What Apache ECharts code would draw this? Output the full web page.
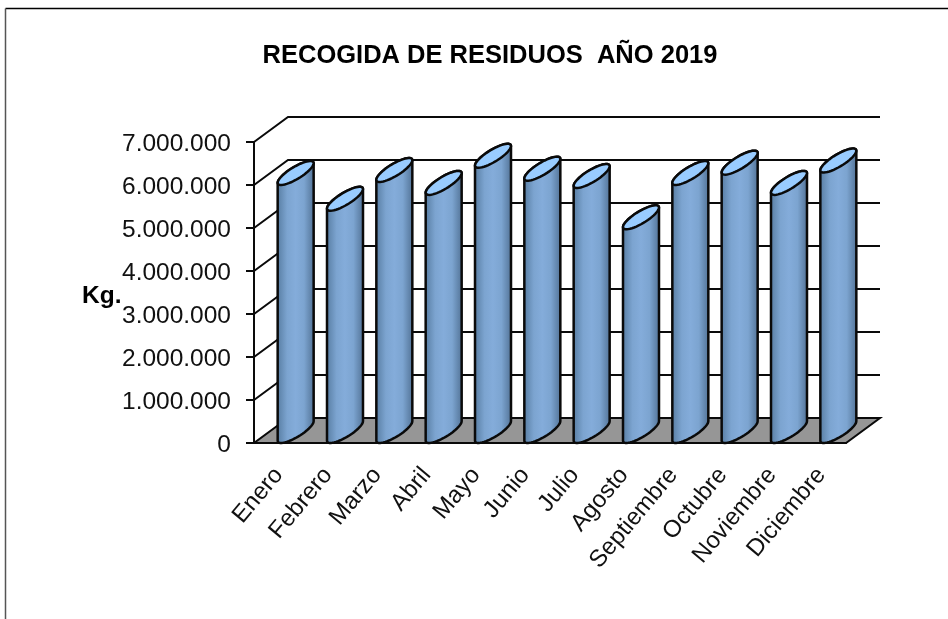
<!DOCTYPE html>
<html>
<head>
<meta charset="utf-8">
<style>html,body{margin:0;padding:0;background:#fff}#c{width:948px;height:619px}</style>
<script src="https://cdn.jsdelivr.net/npm/echarts@6/dist/echarts.min.js"></script>
</head>
<body>
<div id="c"></div>
<script>
const categories = ['Enero','Febrero','Marzo','Abril','Mayo','Junio','Julio','Agosto','Septiembre','Octubre','Noviembre','Diciembre'];
const values = [6000000,5400000,6070000,5770000,6400000,6100000,5930000,4970000,6000000,6240000,5770000,6290000];
const yTicks = [0,1000000,2000000,3000000,4000000,5000000,6000000,7000000];
const titleText = 'RECOGIDA DE RESIDUOS  AÑO 2019';
const yName = 'Kg.';

const DX = 34, DY = 25;
const RX = 18, RY = 12, PHI = 0.62;
const FONT = '"Liberation Sans", Arial, sans-serif';
const INK = '#0a0a0a';

function arc(cx, cy, from, to, n) {
  const pts = [];
  for (let i = 0; i <= n; i++) {
    const t = from + (to - from) * i / n;
    pts.push([cx + RX * Math.cos(t), cy - RY * Math.cos(t - PHI)]);
  }
  return pts;
}

function renderWall(params, api) {
  const cs = params.coordSys;
  const y = api.coord([0, api.value(1)])[1];
  const x0 = cs.x, x1 = cs.x + cs.width;
  if (api.value(1) === 0) {
    return {
      type: 'polygon',
      shape: { points: [[x0, y], [x1, y], [x1 + DX, y - DY], [x0 + DX, y - DY]] },
      style: { fill: '#969696', stroke: INK, lineWidth: 2 }
    };
  }
  return {
    type: 'polyline',
    shape: { points: [[x0, y], [x0 + DX, y - DY], [x1 + DX, y - DY]] },
    style: { fill: 'none', stroke: INK, lineWidth: 2 }
  };
}

function renderBar(params, api) {
  const top = api.coord([api.value(0), api.value(1)]);
  const base = api.coord([api.value(0), 0]);
  const off = RY;
  const cx = top[0] + RX - 1;
  const cyTop = top[1] - off;
  const cyBase = base[1] - off;
  const body = arc(cx, cyBase, Math.PI, 2 * Math.PI, 24).concat(arc(cx, cyTop, 0, Math.PI, 24));
  const lid = arc(cx, cyTop, 0, 2 * Math.PI, 48);
  return {
    type: 'group',
    children: [
      {
        type: 'polygon',
        shape: { points: body },
        style: {
          stroke: INK, lineWidth: 2.5,
          fill: new echarts.graphic.LinearGradient(0, 0, 1, 0, [
            { offset: 0, color: '#557a9f' },
            { offset: 0.28, color: '#7ca4d0' },
            { offset: 0.5, color: '#84acda' },
            { offset: 0.72, color: '#7ca4d0' },
            { offset: 1, color: '#4f6f92' }
          ])
        }
      },
      {
        type: 'polygon',
        shape: { points: lid },
        style: { fill: '#99ccff', stroke: INK, lineWidth: 2.5 }
      }
    ]
  };
}

const chart = echarts.init(document.getElementById('c'), null, { renderer: 'canvas' });
chart.setOption({
  animation: false,
  backgroundColor: '#ffffff',
  title: {
    text: titleText, left: 485, top: 38, textAlign: 'center',
    textStyle: { fontFamily: FONT, fontWeight: 'bold', fontSize: 25.5, color: '#000' }
  },
  grid: { left: 254, top: 142, width: 592, height: 301 },
  xAxis: {
    type: 'category', data: categories, boundaryGap: true,
    axisLine: { show: true, lineStyle: { color: INK, width: 2 } },
    axisTick: { show: false },
    splitLine: { show: false },
    axisLabel: {
      interval: 0, rotate: 50, margin: 28,
      fontFamily: FONT, fontSize: 24, color: '#111'
    }
  },
  yAxis: {
    type: 'value', min: 0, max: 7000000, interval: 1000000,
    axisLine: { show: true, lineStyle: { color: INK, width: 2 } },
    axisTick: { show: true, length: 8, lineStyle: { color: INK, width: 2 } },
    splitLine: { show: false },
    axisLabel: {
      margin: 23, fontFamily: FONT, fontSize: 24.5, color: '#111',
      formatter: v => '{a|' + String(v).replace(/\B(?=(\d{3})+$)/g, '.') + '}',
      rich: { a: { fontFamily: FONT, fontSize: 24.5, color: '#111', padding: [5, 0, 0, 0] } }
    }
  },
  graphic: [
    { type: 'line', silent: true, shape: { x1: 5.5, y1: 8.5, x2: 948, y2: 8.5 }, style: { stroke: '#000', lineWidth: 1.5 } },
    { type: 'line', silent: true, shape: { x1: 5.5, y1: 8.5, x2: 5.5, y2: 619 }, style: { stroke: '#555', lineWidth: 1.5 } },
    { type: 'text', silent: true, left: 82, top: 284, style: { text: yName, fontFamily: FONT, fontWeight: 'bold', fontSize: 24.5, fill: '#000' } }
  ],
  series: [
    {
      type: 'custom', z: 1, renderItem: renderWall, clip: false, silent: true,
      encode: { x: 0, y: 1 },
      data: yTicks.map(t => [0, t])
    },
    {
      type: 'custom', z: 3, renderItem: renderBar, clip: false, silent: true,
      encode: { x: 0, y: 1 },
      data: values.map((v, i) => [i, v])
    }
  ]
});
</script>
</body>
</html>
